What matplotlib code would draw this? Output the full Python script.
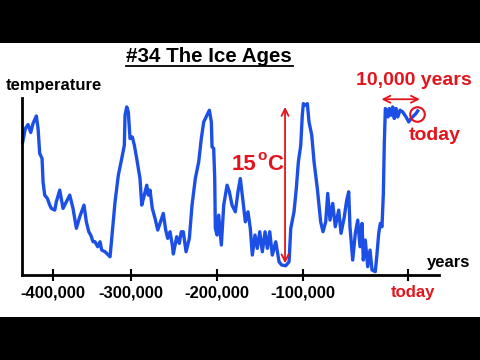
import numpy as np
import matplotlib
matplotlib.use("Agg")
import matplotlib.pyplot as plt
from matplotlib.lines import Line2D
from matplotlib.patches import Rectangle
from matplotlib.transforms import ScaledTranslation

plt.rcParams['font.family'] = ['Liberation Sans', 'DejaVu Sans']

# temperature record (years before today, deg C relative to today)
years = [-438500, -435100, -431700, -428200, -425300, -421000, -418800, -416700, -413700, -412400,
         -410300, -406900, -403800, -401800, -397400, -395400, -391000, -386800, -382600, -378200,
         -374000, -369700, -365400, -359900, -356900, -353800, -351300, -348300, -345800, -342300,
         -339400, -337200, -332900, -326500, -324400, -320100, -315900, -311500, -308200, -307300,
         -305100, -303100, -300900, -298200, -295800, -293100, -289300, -287300, -284300, -281500,
         -279700, -277700, -275100, -271900, -268800, -266200, -262400, -259600, -257300, -254600,
         -252000, -250800, -246900, -243900, -241600, -239300, -236100, -232300, -229200, -225400,
         -221500, -218500, -215700, -211900, -209200, -206900, -206100, -204200, -203000, -202300,
         -200300, -198400, -195300, -192500, -188600, -185900, -182800, -178900, -175800, -173100,
         -170300, -167200, -164100, -161400, -159000, -155900, -153200, -150300, -147300, -144100,
         -141400, -138600, -135600, -131600, -127700, -124600, -119900, -116000, -114000, -110200,
         -107500, -105100, -102300, -100500, -99400, -97100, -95600, -94000, -91400, -89200,
         -86100, -82900, -80700, -78100, -76200, -74000, -71400, -69000, -65700, -63500,
         -60400, -58100, -56200, -55000, -52400, -49900, -47600, -45400, -43500, -42300,
         -40400, -38100, -35900, -34000, -30900, -29500, -27600, -26100, -24500, -23200,
         -22300, -21300, -20000, -18800, -17500, -15900, -14300, -12800, -11100, -9500,
         -7300, -4800, -1600, 1000, 3100, 6300, 7900, 9500]
temp = [-2.32, -1.06, -0.68, -1.43, -0.59, 0.12, -1.06, -3.40, -3.87, -6.07,
        -7.31, -7.62, -8.25, -8.56, -8.72, -7.94, -6.84, -8.56, -7.94, -7.31,
        -8.56, -10.43, -9.35, -8.25, -9.82, -10.75, -11.06, -11.69, -11.69, -12.16,
        -11.69, -12.47, -12.63, -13.10, -11.37, -7.94, -5.44, -3.87, -2.63, 0.19,
        0.97, 0.50, -2.00, -1.85, -2.63, -3.87, -5.75, -8.25, -7.31, -6.38,
        -7.31, -6.84, -8.56, -9.50, -10.59, -9.97, -9.03, -10.59, -11.37, -10.75,
        -12.00, -12.84, -11.22, -11.84, -10.75, -10.75, -12.63, -11.37, -8.25, -5.75,
        -4.19, -2.00, -0.44, 0.19, 0.66, -0.44, -2.78, -2.93, -5.75, -10.43,
        -11.06, -9.19, -12.00, -8.25, -6.38, -7.00, -8.25, -8.88, -7.00, -5.75,
        -7.62, -9.82, -8.88, -10.43, -12.94, -11.06, -12.31, -10.75, -12.63, -10.75,
        -12.31, -10.75, -12.94, -11.69, -13.57, -13.88, -13.94, -13.57, -10.43, -8.88,
        -6.68, -4.19, -2.63, 0.19, 1.28, 1.13, 1.28, -0.44, -1.69, -4.19,
        -6.68, -9.82, -10.75, -9.82, -7.15, -9.66, -8.09, -10.28, -8.72, -10.90,
        -9.35, -7.78, -7.00, -10.28, -13.41, -10.90, -9.66, -12.16, -9.97, -13.41,
        -11.53, -14.03, -12.47, -14.34, -14.50, -13.10, -10.90, -9.97, -10.28, -7.15,
        -2.47, 0.82, 0.66, 0.03, 0.82, 0.19, 0.97, -0.12, 0.82, 0.03,
        0.66, 0.50, 0.03, -0.44, -0.12, 0.19, 0.35, 0.59]

tick_years = [-400000, -300000, -200000, -100000, 0]
tick_labels = ['-400,000', '-300,000', '-200,000', '-100,000', 'today']

# the hand drawn axis is not evenly spaced, so map years -> drawing position
tick_pos = [52.7, 130.7, 217.3, 302.7, 407.7]
anchor_years = [-500000] + tick_years + [100000]
anchor_pos = [52.7 - 78.0] + tick_pos + [407.7 + 105.0]


def forward(x):
    return np.interp(x, anchor_years, anchor_pos)


def inverse(p):
    return np.interp(p, anchor_pos, anchor_years)


red = '#e3141c'
blue = '#1c4fe6'

W, H = 480, 360
fig = plt.figure(figsize=(4.8, 3.6), dpi=100, facecolor='black')

# white band between the black letterbox bars
fig.add_artist(Rectangle((0, 43 / H), 1, 274 / H, transform=fig.transFigure,
                         facecolor='white', edgecolor='none', zorder=-1))

ax = fig.add_axes([22 / W, (H - 275.3) / H, 417 / W, 177 / H])
ax.set_facecolor('none')
ax.set_xscale('function', functions=(forward, inverse))
ax.set_xlim(-439400, 29800)
ax.set_ylim(-14.84, 1.78)

ax.plot(years, temp, color=blue, lw=2.4, solid_joinstyle='round', clip_on=False)

for s in ['top', 'right']:
    ax.spines[s].set_visible(False)
for s in ['left', 'bottom']:
    ax.spines[s].set_linewidth(2)
    ax.spines[s].set_color('black')

ax.set_yticks([])
ax.set_xticks(tick_years)
ax.set_xticklabels(tick_labels, fontsize=12, fontweight='bold')
ax.tick_params(axis='x', direction='inout', length=8, width=1.5, pad=3)
today_lbl = ax.get_xticklabels()[-1]
today_lbl.set_color(red)
today_lbl.set_transform(today_lbl.get_transform() + ScaledTranslation(0.055, 0, fig.dpi_scale_trans))

# 15 degree arrow at the last interglacial
ax.annotate('', xy=(-120700, 0.97), xytext=(-120700, -13.72),
            arrowprops=dict(arrowstyle='<->, head_length=0.5, head_width=0.25',
                            color=red, lw=1.3, shrinkA=0, shrinkB=0),
            annotation_clip=False)

# 10,000 years arrow and circle around today
ax.annotate('', xy=(-25000, 1.69), xytext=(11600, 1.69),
            arrowprops=dict(arrowstyle='<->, head_length=0.5, head_width=0.25',
                            color=red, lw=1.3, shrinkA=0, shrinkB=0),
            annotation_clip=False)
ax.plot([8600], [0.28], marker='o', ms=10.5, mfc='none', mec=red, mew=1.5, clip_on=False)

# texts
fig.text(209.3 / W, 1 - 62.3 / H, '#34 The Ice Ages', ha='center', va='baseline',
         fontsize=14.8, fontweight='bold')
fig.add_artist(Line2D([126 / W, 292.7 / W], [1 - 65.5 / H] * 2, lw=1.3, color='black'))
fig.text(6 / W, 1 - 90 / H, 'temperature', ha='left', va='baseline', fontsize=12, fontweight='bold')
fig.text(426.7 / W, 1 - 266.7 / H, 'years', ha='left', va='baseline', fontsize=12, fontweight='bold')
fig.text(413.7 / W, 1 - 85 / H, '10,000 years', ha='center', va='baseline',
         fontsize=14, fontweight='bold', color=red)
fig.text(434.8 / W, 1 - 140 / H, 'today', ha='center', va='baseline',
         fontsize=14, fontweight='bold', color=red)

# 15 oC, with the small raised o placed after the number
t15 = fig.text(232 / W, 1 - 170 / H, '15', ha='left', va='baseline', fontsize=16,
               fontweight='bold', color=red)
t_o = ax.annotate('o', xy=(1, 1 - 160 / H), xycoords=(t15, 'figure fraction'),
                  xytext=(0.3, 0), textcoords='offset points',
                  ha='left', va='baseline', fontsize=11, fontweight='bold', color=red,
                  annotation_clip=False)
ax.annotate('C', xy=(1, 1 - 170 / H), xycoords=(t_o, 'figure fraction'),
            xytext=(0.3, 0), textcoords='offset points',
            ha='left', va='baseline', fontsize=16, fontweight='bold', color=red,
            annotation_clip=False)

plt.savefig('out.png', dpi=100, facecolor=fig.get_facecolor())
